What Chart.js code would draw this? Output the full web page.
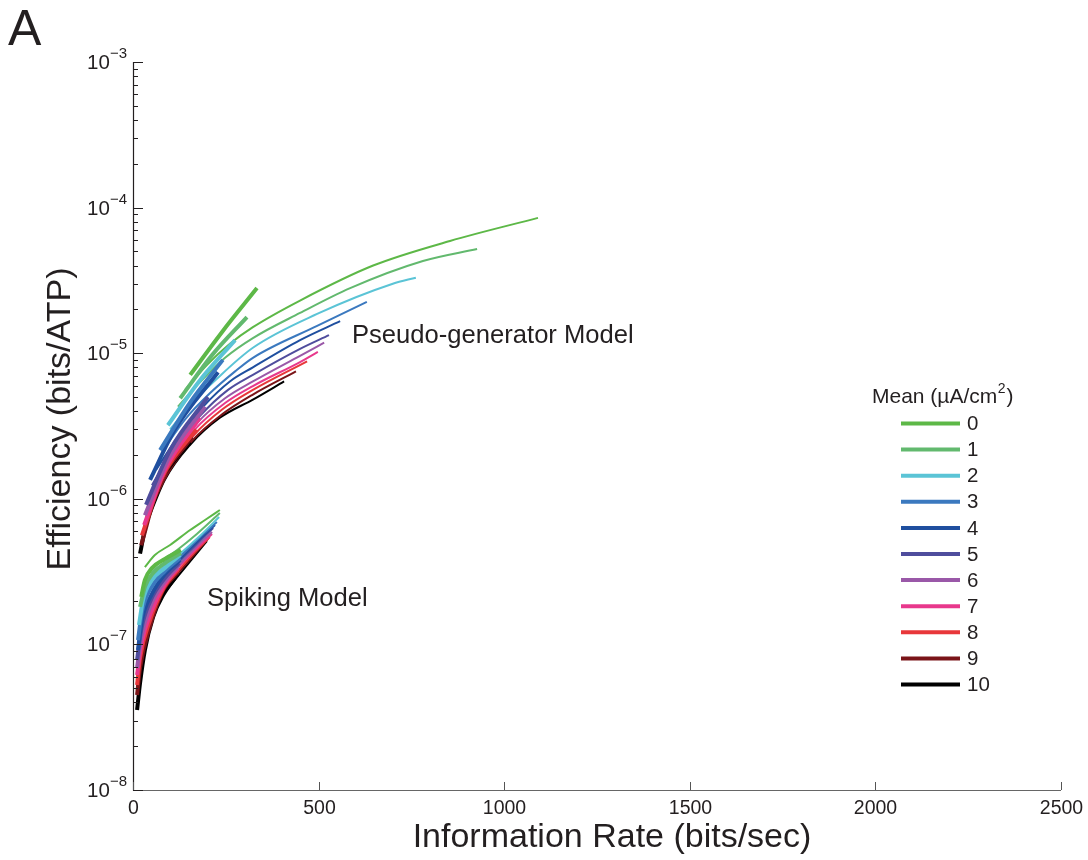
<!DOCTYPE html>
<html><head><meta charset="utf-8">
<script src="https://cdn.jsdelivr.net/npm/chart.js@4.4.0/dist/chart.umd.min.js"></script>
<style>html,body{margin:0;padding:0;background:#fff}#wrap{width:1088px;height:860px;position:relative}canvas{display:block}</style>
</head><body><div id="wrap"><canvas id="c" width="1088" height="860"></canvas></div>
<script>
// ---------- DATA ----------
const meanLabels = ['0','1','2','3','4','5','6','7','8','9','10'];
const meanColors = ['#5db847','#62b96e','#5bc4d6','#3b79bf','#1f4f9f','#4f4d9d','#9a58a8','#e8388c','#e8373a','#7a1418','#000000'];
const xTickValues = [0,500,1000,1500,2000,2500];
const yTickExponents = [-3,-4,-5,-6,-7,-8];

// Pseudo-generator model, thin curves (rate bits/s, efficiency bits/ATP)
const pgThinRate = [
 [140,199,261,323,450,647,854,1091],
 [121,180,248,323,450,585,781,927],
 [100,159,221,323,496,700,762],
 [78,140,207,275,323,496,630],
 [62,121,189,261,323,450,558],
 [51,113,180,256,323,450,528],
 [46,105,172,248,323,450,515],
 [40,100,167,248,323,450,498],
 [35,94,162,240,323,469],
 [32,92,159,240,323,439],
 [30,86,154,234,323,407]
];
const pgThinEff = [
 [5.6e-6,8.3e-6,1.16e-5,1.51e-5,2.3e-5,4.0e-5,5.9e-5,8.5e-5],
 [4.3e-6,6.3e-6,9.3e-6,1.27e-5,1.89e-5,2.8e-5,4.3e-5,5.2e-5],
 [3.0e-6,4.55e-6,6.5e-6,1.09e-5,1.86e-5,3.0e-5,3.3e-5],
 [2.1e-6,3.5e-6,5.3e-6,7.5e-6,9.3e-6,1.54e-5,2.25e-5],
 [1.58e-6,2.66e-6,4.3e-6,6.4e-6,8.0e-6,1.23e-5,1.66e-5],
 [1.24e-6,2.27e-6,3.7e-6,5.6e-6,7.1e-6,1.07e-5,1.33e-5],
 [1.06e-6,1.97e-6,3.3e-6,4.9e-6,6.4e-6,9.6e-6,1.18e-5],
 [9.1e-7,1.76e-6,3.0e-6,4.55e-6,5.95e-6,8.7e-6,1.02e-5],
 [7.9e-7,1.58e-6,2.7e-6,4.1e-6,5.6e-6,8.8e-6],
 [6.9e-7,1.46e-6,2.5e-6,3.8e-6,5.2e-6,7.5e-6],
 [6.1e-7,1.35e-6,2.35e-6,3.6e-6,4.8e-6,6.4e-6]
];
// Pseudo-generator model, thick curves
const pgThickRate = [
 [154,240,334],
 [127,213,307],
 [94,180,275],
 [73,154,242],
 [46,113,229],
 [35,100,202],
 [32,94,194],
 [30,86,180],
 [24,78,170],
 [22,67,159],
 [19,40,67,113,154]
];
const pgThickEff = [
 [7.1e-6,1.40e-5,2.8e-5],
 [4.9e-6,9.7e-6,1.77e-5],
 [3.2e-6,6.5e-6,1.23e-5],
 [2.16e-6,4.6e-6,9.0e-6],
 [1.35e-6,3.0e-6,7.4e-6],
 [9.1e-7,2.16e-6,5.0e-6],
 [7.7e-7,1.85e-6,4.3e-6],
 [6.6e-7,1.58e-6,3.6e-6],
 [5.6e-7,1.39e-6,3.0e-6],
 [4.8e-7,1.19e-6,2.66e-6],
 [4.2e-7,7.7e-7,1.24e-6,1.85e-6,2.45e-6]
];
// Spiking model, thin curves
const spThinRate = [
 [32,59,100,154,194,234],
 [38,73,119,172,234],
 [46,86,129,180,232],
 [65,127,178,226],
 [67,127,175,221],
 [70,124,172,216],
 [73,124,170,213],
 [73,121,167,213],
 [73,121,164,207],
 [73,119,162,202],
 [73,119,159,199]
];
const spThinEff = [
 [3.40e-7,4.11e-7,4.82e-7,6.11e-7,7.15e-7,8.38e-7],
 [3.00e-7,3.68e-7,4.45e-7,5.73e-7,7.99e-7],
 [2.86e-7,3.46e-7,4.24e-7,5.55e-7,7.50e-7],
 [2.90e-7,4.05e-7,5.38e-7,6.93e-7],
 [2.77e-7,3.86e-7,5.13e-7,6.61e-7],
 [2.64e-7,3.68e-7,4.89e-7,6.30e-7],
 [2.52e-7,3.51e-7,4.67e-7,5.92e-7],
 [2.40e-7,3.35e-7,4.45e-7,5.73e-7],
 [2.29e-7,3.19e-7,4.24e-7,5.47e-7],
 [2.18e-7,3.04e-7,4.05e-7,5.30e-7],
 [2.08e-7,2.90e-7,3.86e-7,5.13e-7]
];
// Spiking model, thick curves
const spThickRate = [
 [22,32,51,81,129],
 [19,32,54,86,129],
 [16,27,51,86,127],
 [13.5,24,48,86,127],
 [13.5,24,51,86,127],
 [11,22,48,86,124],
 [11,22,48,86,124],
 [11,22,51,86,121],
 [11,19,46,84,121],
 [11,19,46,81,119],
 [11,19,32,54,81,119]
];
const spThickEff = [
 [2.12e-7,2.77e-7,3.35e-7,3.80e-7,4.45e-7],
 [1.81e-7,2.48e-7,3.09e-7,3.62e-7,4.24e-7],
 [1.36e-7,2.02e-7,2.77e-7,3.35e-7,4.11e-7],
 [1.07e-7,1.67e-7,2.44e-7,3.19e-7,3.92e-7],
 [9.15e-8,1.47e-7,2.22e-7,3.04e-7,3.80e-7],
 [7.81e-8,1.26e-7,2.02e-7,2.86e-7,3.62e-7],
 [6.88e-8,1.11e-7,1.86e-7,2.72e-7,3.51e-7],
 [6.16e-8,9.9e-8,1.72e-7,2.60e-7,3.35e-7],
 [5.26e-8,8.07e-8,1.47e-7,2.48e-7,3.24e-7],
 [4.49e-8,6.88e-8,1.34e-7,2.36e-7,3.09e-7],
 [3.54e-8,5.43e-8,9.15e-8,1.54e-7,2.18e-7,3.00e-7]
];

// ---------- BUILD ----------
const FONT = "'Liberation Sans', Arial, Helvetica, sans-serif";
const TXT = '#231f20';
function mk(rates, effs, width, group, order){
  return rates.map((r,i)=>({
    label: meanLabels[i], group,
    data: r.map((x,j)=>({x, y: effs[i][j]})),
    borderColor: meanColors[i], backgroundColor: meanColors[i],
    borderWidth: width, pointRadius: 0, pointHoverRadius: 0,
    fill: false, cubicInterpolationMode: 'monotone', order,
    borderCapStyle: 'butt', borderJoinStyle: 'round'
  }));
}
const datasets = [
  ...mk(pgThinRate, pgThinEff, 2, 'pgThin', 2),
  ...mk(spThinRate, spThinEff, 2, 'spThin', 2),
  ...mk(pgThickRate, pgThickEff, 4, 'pgThick', 1),
  ...mk(spThickRate, spThickEff, 4, 'spThick', 1)
];

function supLabel(ctx, base, sup, rightX, midY, baseSize, supSize, supRise){
  ctx.font = baseSize + 'px ' + FONT;
  const wb = ctx.measureText(base).width;
  ctx.font = supSize + 'px ' + FONT;
  const ws = ctx.measureText(sup).width;
  const x0 = rightX - wb - ws;
  ctx.textAlign = 'left'; ctx.textBaseline = 'middle';
  ctx.font = baseSize + 'px ' + FONT;
  ctx.fillText(base, x0, midY);
  ctx.font = supSize + 'px ' + FONT;
  ctx.fillText(sup, x0 + wb, midY - supRise);
}

const decor = {
  id: 'decor',
  afterDraw(chart){
    const {ctx, scales:{x, y}, chartArea:a} = chart;
    ctx.save();
    // axes
    ctx.lineWidth = 1.2;
    ctx.strokeStyle = '#231f20';
    ctx.beginPath(); ctx.moveTo(a.left+0.5, a.top); ctx.lineTo(a.left+0.5, a.bottom+0.5); ctx.stroke();
    ctx.strokeStyle = '#666';
    ctx.beginPath(); ctx.moveTo(a.left, a.bottom+0.5); ctx.lineTo(a.right, a.bottom+0.5); ctx.stroke();
    // y ticks
    ctx.strokeStyle = '#231f20'; ctx.lineWidth = 1;
    yTickExponents.forEach(n => {
      const py = Math.round(y.getPixelForValue(Math.pow(10, n))) + 0.5;
      ctx.beginPath(); ctx.moveTo(a.left, py); ctx.lineTo(a.left + 10, py); ctx.stroke();
      if (n > -8) {
        for (let m = 2; m <= 9; m++) {
          const p = Math.round(y.getPixelForValue(m * Math.pow(10, n - 1))) + 0.5;
          ctx.beginPath(); ctx.moveTo(a.left, p); ctx.lineTo(a.left + 5, p); ctx.stroke();
        }
      }
      ctx.fillStyle = TXT;
      supLabel(ctx, '10', '\u2212' + Math.abs(n), a.left - 6, py + 1, 20.5, 15, 10);
    });
    // x ticks
    ctx.strokeStyle = '#555';
    xTickValues.forEach(v => {
      const px = Math.round(x.getPixelForValue(v)) + 0.5;
      ctx.beginPath(); ctx.moveTo(px, a.bottom); ctx.lineTo(px, a.bottom - 8); ctx.stroke();
      ctx.fillStyle = TXT; ctx.font = '19.5px ' + FONT;
      ctx.textAlign = 'center'; ctx.textBaseline = 'middle';
      ctx.fillText(String(v), px, 809);
    });
    // axis titles
    ctx.fillStyle = TXT;
    ctx.font = '34px ' + FONT; ctx.textAlign = 'center'; ctx.textBaseline = 'alphabetic';
    ctx.fillText('Information Rate (bits/sec)', (a.left + a.right) / 2 + 15, 847);
    ctx.save(); ctx.translate(70, 419); ctx.rotate(-Math.PI / 2);
    ctx.fillText('Efficiency (bits/ATP)', 0, 0); ctx.restore();
    // panel letter & annotations
    ctx.textAlign = 'left';
    ctx.font = '50px ' + FONT; ctx.fillText('A', 8, 45);
    ctx.font = '25.6px ' + FONT;
    ctx.fillText('Pseudo-generator Model', 352, 343);
    ctx.fillText('Spiking Model', 207, 606);
    // legend
    ctx.font = '21px ' + FONT; ctx.textBaseline = 'alphabetic';
    const t1 = 'Mean (\u00b5A/cm';
    const lx = 872;
    ctx.fillText(t1, lx, 403);
    const w1 = ctx.measureText(t1).width;
    ctx.font = '14px ' + FONT; ctx.fillText('2', lx + w1 + 0.5, 393);
    const w2 = ctx.measureText('2').width;
    ctx.font = '21px ' + FONT; ctx.fillText(')', lx + w1 + w2 + 1.5, 403);
    meanLabels.forEach((lab, i) => {
      const ly = 423.5 + 26.1 * i;
      ctx.strokeStyle = meanColors[i]; ctx.lineWidth = 4;
      ctx.beginPath(); ctx.moveTo(901, ly); ctx.lineTo(960, ly); ctx.stroke();
      ctx.fillStyle = TXT; ctx.font = '20.5px ' + FONT; ctx.textBaseline = 'middle';
      ctx.fillText(lab, 967, ly + 1);
    });
    ctx.restore();
  }
};

new Chart(document.getElementById('c'), {
  type: 'line',
  data: { datasets },
  options: {
    responsive: false, animation: false, devicePixelRatio: 1,
    layout: { padding: { left: 133, top: 62, right: 27, bottom: 70 } },
    plugins: { legend: { display: false }, tooltip: { enabled: false } },
    scales: {
      x: { type: 'linear', min: 0, max: 2500,
           ticks: { display: false }, grid: { display: false, drawTicks: false }, border: { display: false } },
      y: { type: 'logarithmic', min: 1e-8, max: 1e-3,
           ticks: { display: false }, grid: { display: false, drawTicks: false }, border: { display: false } }
    }
  },
  plugins: [decor]
});
</script>
</body></html>
